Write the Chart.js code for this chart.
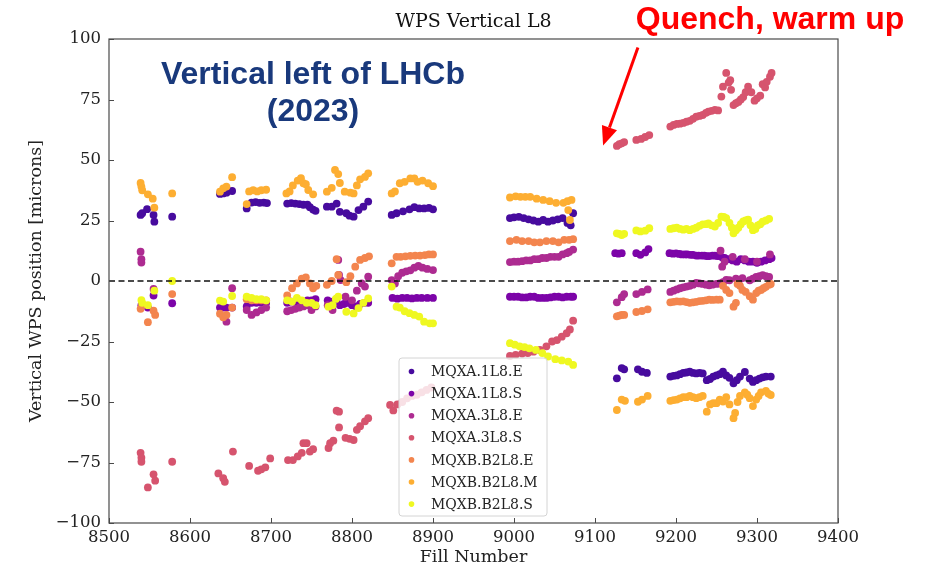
<!DOCTYPE html>
<html><head><meta charset="utf-8">
<script src="https://cdn.jsdelivr.net/npm/chart.js@4/dist/chart.umd.min.js"></script>
<style>html,body{margin:0;padding:0;background:#fff}</style>
</head><body>
<canvas id="c" width="933" height="569" style="width:933px;height:569px;display:block"></canvas>
<script>
// ---------- data (fill number, vertical position in microns) ----------
const seriesNames = ['MQXA.1L8.E','MQXA.1L8.S','MQXA.3L8.E','MQXA.3L8.S','MQXB.B2L8.E','MQXB.B2L8.M','MQXB.B2L8.S'];
const seriesColors = ['#470b9e','#7c04a8','#ad2b91','#d6546e','#f3854e','#fdae32','#eff821'];
const xTicks = [8500,8600,8700,8800,8900,9000,9100,9200,9300,9400];
const yTicks = [-100,-75,-50,-25,0,25,50,75,100];

const mqxa1l8e = [[8539,27.3],[8541,28.0],[8547,29.7],[8555,27.3],[8556,24.5],[8578,26.6],
 [8637,36.0],[8641,36.2],[8645,36.5],[8652,37.2],
 [8670,30.0],[8676,32.4],[8681,32.6],[8686,32.3],[8691,32.4],[8695,32.2],
 [8720,32.0],[8725,32.2],[8730,32.0],[8735,31.8],[8740,31.5],[8745,31.5],[8748,30.5],[8752,29.5],[8755,29.0],
 [8769,30.7],[8775,30.7],[8781,32.0],[8785,28.6],[8793,28.0],[8797,27.0],[8802,26.6],[8808,29.3],[8814,30.7],[8820,32.8],
 [8849,27.3],[8855,28.0],[8863,28.8],[8871,29.6],[8877,30.5],[8883,30.0],[8889,30.0],[8895,30.2],[8900,29.6],
 [8995,26.0],[9000,26.3],[9006,26.5],[9012,26.0],[9018,25.5],[9024,25.0],[9030,24.5],[9036,25.2],[9042,24.5],[9048,25.0],[9054,25.5],[9060,26.0],[9066,24.0],[9070,23.0],[9073,28.0],
 [9127,-40.2],[9133,-36.0],[9136,-36.5],[9153,-36.5],[9158,-37.5],[9164,-38.0],
 [9193,-39.5],[9197,-39.2],[9201,-39.0],[9205,-38.5],[9209,-38.0],[9213,-37.8],[9217,-37.5],[9221,-38.0],[9225,-38.2],[9229,-38.0],[9233,-38.2],[9238,-41.0],[9242,-40.5],[9246,-39.5],[9250,-39.0],[9254,-38.5],[9258,-37.5],[9262,-39.0],[9266,-40.0],[9271,-42.3],[9275,-41.0],[9279,-39.5],[9285,-37.6],[9291,-40.3],[9295,-41.7],[9299,-41.0],[9303,-40.3],[9307,-39.8],[9311,-39.5],[9317,-39.5]];

const mqxa1l8s = [[8540,-10.0],[8548,-11.0],[8555,-6.0],[8578,-9.2],
 [8637,-11.0],[8641,-11.0],[8645,-11.0],[8652,-11.0],
 [8670,-10.5],[8676,-9.0],[8682,-9.0],[8688,-9.0],[8694,-9.0],
 [8720,-9.0],[8725,-8.5],[8730,-8.5],[8735,-8.8],[8740,-9.0],[8745,-8.0],[8750,-8.0],[8755,-7.5],
 [8770,-8.0],[8776,-8.5],[8781,-7.5],[8785,-10.0],[8790,-9.5],[8795,-9.0],[8800,-10.0],[8805,-10.5],[8810,-9.5],[8815,-9.0],[8820,-9.0],
 [8850,-7.0],[8856,-7.3],[8862,-7.0],[8868,-7.0],[8874,-7.2],[8880,-7.0],[8886,-7.0],[8893,-7.0],[8900,-7.0],
 [8995,-6.5],[9000,-6.5],[9005,-6.5],[9010,-6.8],[9015,-6.8],[9020,-6.5],[9025,-6.5],[9030,-7.0],[9035,-7.0],[9040,-7.0],[9045,-6.8],[9050,-6.5],[9055,-6.5],[9060,-6.8],[9065,-6.5],[9070,-6.5],[9073,-6.5],
 [9125,11.5],[9129,11.3],[9133,11.5],[9151,11.5],[9156,10.8],[9162,11.8],[9166,13.2],
 [9192,11.5],[9196,11.3],[9200,11.4],[9204,11.2],[9207,11.0],[9211,11.0],[9214,11.0],[9218,10.8],[9221,10.8],[9225,10.5],[9228,10.5],[9232,10.5],[9235,10.5],[9238,10.3],[9241,10.3],[9245,10.5],[9248,10.5],[9251,10.3],[9254,10.3],[9257,9.8],[9260,9.5],[9265,9.0],[9270,8.5],[9275,8.0],[9280,9.0],[9285,8.5],[9290,8.0],[9295,8.0],[9300,7.5],[9305,8.0],[9310,8.5],[9315,9.0],[9318,9.5]];

const mqxa3l8e = [[8539,12.1],[8540,9.0],[8540,7.6],[8555,-3.3],
 [8645,-16.8],[8652,-3.0],
 [8670,-12.0],[8676,-14.0],[8682,-13.0],[8688,-12.0],[8694,-11.0],
 [8720,-12.5],[8725,-12.0],[8730,-11.5],[8735,-11.0],[8740,-10.5],[8745,-10.0],[8750,-12.0],[8755,-10.5],
 [8770,-10.0],[8776,-12.0],[8783,8.7],[8784,2.5],[8786,0.4],[8792,-6.5],[8800,-8.0],[8806,-4.0],[8812,-1.0],[8816,-2.3],[8820,1.8],
 [8849,0.4],[8853,-1.0],[8857,2.0],[8862,3.4],[8867,4.0],[8872,4.4],[8877,5.5],[8882,6.2],[8887,5.5],[8893,5.0],[8900,4.5],
 [8995,7.8],[9000,8.0],[9005,8.0],[9010,8.2],[9015,8.5],[9020,8.5],[9025,9.0],[9030,9.0],[9035,9.5],[9040,9.5],[9045,10.0],[9050,10.0],[9055,10.0],[9060,11.0],[9065,11.5],[9068,12.0],[9073,13.0],
 [9127,-8.8],[9133,-6.7],[9136,-5.4],[9151,-5.4],[9158,-4.5],[9165,-3.5],
 [9193,-4.5],[9197,-4.0],[9201,-3.5],[9205,-3.0],[9209,-2.6],[9213,-2.3],[9217,-2.0],[9221,-1.5],[9225,-0.8],[9229,-1.0],[9233,-1.2],[9237,-1.5],[9241,-1.8],[9245,-1.5],[9250,-1.2],[9254,-1.0],[9255,12.5],[9257,5.9],[9258,-0.5],[9260,8.0],[9262,0.5],[9266,0.3],[9270,10.0],[9274,1.0],[9278,0.5],[9282,1.2],[9285,9.0],[9291,0.3],[9295,1.0],[9299,1.7],[9300,8.0],[9303,2.0],[9307,2.4],[9311,2.0],[9315,1.7],[9316,11.0]];

const mqxa3l8s = [[8539,-71.0],[8540,-73.0],[8540,-74.7],[8548,-85.3],[8555,-79.9],[8557,-82.5],[8578,-74.7],
 [8635,-79.5],[8641,-81.5],[8643,-83.0],[8653,-70.5],
 [8673,-76.4],[8684,-78.4],[8688,-77.8],[8693,-77.0],[8699,-73.3],
 [8721,-74.0],[8727,-74.0],[8733,-72.5],[8738,-71.0],[8740,-67.0],[8744,-67.0],[8748,-70.5],[8752,-69.5],
 [8771,-69.0],[8773,-67.0],[8777,-66.0],[8781,-53.6],[8784,-54.0],[8784,-60.5],[8792,-64.8],[8797,-65.2],[8802,-65.7],[8806,-61.5],[8810,-60.0],[8816,-58.0],[8820,-56.7],
 [8847,-51.2],[8851,-53.5],[8856,-51.0],[8862,-50.0],[8868,-48.5],[8874,-47.5],[8880,-47.0],[8886,-46.0],[8892,-45.0],[8898,-44.0],
 [8995,-31.0],[9002,-30.5],[9010,-30.0],[9017,-29.8],[9024,-29.2],[9032,-28.5],[9040,-27.0],[9047,-25.0],[9053,-24.4],[9059,-23.0],[9065,-21.6],[9069,-20.0],[9073,-16.4],
 [9127,55.8],[9130,56.5],[9133,56.9],[9136,57.4],[9151,58.3],[9157,58.7],[9162,59.5],[9167,60.3],
 [9193,63.8],[9197,64.5],[9201,64.9],[9205,65.0],[9209,65.3],[9213,65.8],[9217,66.2],[9221,67.0],[9225,67.9],[9229,68.2],[9233,68.6],[9237,69.5],[9240,70.0],[9244,70.3],[9248,70.7],[9252,70.5],[9256,76.2],[9258,80.3],[9262,86.0],[9265,82.0],[9267,83.0],[9268,79.0],[9271,72.7],[9274,73.5],[9277,74.0],[9280,75.0],[9283,76.0],[9286,78.0],[9289,80.3],[9293,78.0],[9297,74.5],[9300,75.5],[9304,76.6],[9307,81.3],[9310,80.0],[9312,82.3],[9316,84.4],[9318,86.0]];

const mqxbb2l8e = [[8539,-11.5],[8541,-10.0],[8548,-17.0],[8555,-12.3],[8557,-14.0],[8578,-5.4],
 [8637,-13.5],[8641,-15.0],[8645,-14.0],[8652,-11.0],
 [8670,-7.5],[8676,-8.0],[8682,-8.0],[8688,-8.0],[8694,-8.0],
 [8720,-6.0],[8726,-3.0],[8732,-1.0],[8738,1.0],[8743,1.5],[8748,-1.0],[8752,-3.0],[8756,-2.0],
 [8769,-1.6],[8775,0.0],[8781,9.0],[8783,2.5],[8793,-0.5],[8798,2.0],[8804,5.9],[8810,8.7],[8816,9.5],[8821,10.2],
 [8849,7.3],[8855,10.0],[8860,10.0],[8866,10.2],[8872,10.4],[8878,10.5],[8884,10.5],[8890,10.7],[8895,11.0],[8900,11.0],
 [8995,16.5],[9003,17.0],[9010,16.5],[9018,16.5],[9025,16.0],[9032,16.0],[9040,16.5],[9048,16.5],[9055,16.0],[9062,17.0],[9068,17.0],[9073,17.3],
 [9127,-14.6],[9130,-14.3],[9133,-14.0],[9136,-14.0],[9151,-12.8],[9158,-12.4],[9165,-11.7],
 [9193,-8.8],[9197,-8.6],[9201,-8.4],[9205,-8.5],[9209,-8.4],[9213,-8.7],[9217,-9.0],[9221,-8.8],[9225,-8.6],[9229,-8.3],[9233,-8.2],[9237,-8.0],[9241,-7.7],[9245,-7.8],[9250,-7.7],[9254,-7.7],[9258,-2.0],[9262,-3.7],[9266,-5.0],[9271,-10.6],[9274,-9.0],[9276,-1.2],[9279,-2.0],[9282,-3.7],[9286,-4.5],[9291,-6.3],[9295,-7.7],[9299,-5.0],[9302,-4.0],[9305,-3.7],[9308,-3.0],[9311,-2.4],[9315,-1.5],[9317,-1.2]];

const mqxbb2l8m = [[8539,40.5],[8540,39.0],[8541,37.5],[8548,35.8],[8554,34.0],[8556,30.3],[8578,36.2],
 [8637,36.9],[8641,38.3],[8645,39.0],[8652,42.9],
 [8670,31.8],[8673,37.0],[8678,37.5],[8683,37.0],[8688,37.5],[8694,37.7],
 [8719,36.2],[8723,37.0],[8727,39.5],[8733,41.5],[8737,42.5],[8740,40.4],[8743,40.0],[8746,37.6],[8752,35.8],
 [8769,36.9],[8775,38.5],[8779,45.9],[8783,44.2],[8785,40.5],[8791,36.9],[8798,36.5],[8802,36.2],[8806,39.5],[8810,42.0],[8816,43.0],[8820,44.5],
 [8849,36.2],[8853,37.0],[8859,40.4],[8865,41.0],[8872,42.4],[8877,42.4],[8881,41.0],[8887,41.5],[8894,40.4],[8900,39.2],
 [8995,34.5],[9002,35.0],[9008,34.8],[9014,34.8],[9020,34.8],[9028,34.0],[9036,33.5],[9044,33.0],[9052,32.3],[9061,32.3],[9066,33.0],[9067,29.3],[9069,25.2],[9071,33.5],
 [9127,-53.3],[9133,-49.0],[9137,-49.5],[9153,-49.9],[9158,-49.0],[9165,-47.5],
 [9193,-49.5],[9197,-49.2],[9201,-49.0],[9205,-48.5],[9209,-48.0],[9213,-48.0],[9217,-47.5],[9221,-48.0],[9225,-48.4],[9229,-48.0],[9233,-47.5],[9238,-54.0],[9242,-51.0],[9246,-50.5],[9250,-50.5],[9254,-49.0],[9258,-49.8],[9262,-48.0],[9266,-51.0],[9271,-56.7],[9273,-54.5],[9276,-50.0],[9279,-47.5],[9285,-46.0],[9288,-47.0],[9291,-48.4],[9295,-51.7],[9299,-49.0],[9302,-47.5],[9305,-46.0],[9311,-45.4],[9314,-46.5],[9317,-47.1]];

const mqxbb2l8s = [[8540,-7.9],[8541,-9.0],[8548,-10.0],[8556,-4.0],[8578,0.0],
 [8637,-8.1],[8641,-8.5],[8652,-6.2],
 [8670,-6.5],[8676,-7.0],[8682,-7.5],[8688,-7.5],[8694,-8.0],
 [8720,-8.0],[8726,-8.5],[8732,-7.0],[8738,-8.0],[8744,-9.0],[8750,-9.0],[8755,-10.0],
 [8771,-10.6],[8776,-10.0],[8780,-7.4],[8783,-6.5],[8793,-12.7],[8802,-13.4],[8808,-11.2],[8814,-9.0],[8820,-7.2],
 [8849,-2.3],[8855,-10.6],[8859,-11.0],[8865,-12.5],[8871,-13.3],[8877,-14.0],[8883,-14.7],[8889,-16.8],[8896,-17.5],[8900,-17.5],
 [8995,-25.7],[9001,-26.3],[9007,-27.0],[9013,-27.3],[9019,-27.8],[9027,-28.5],[9035,-29.8],[9042,-31.2],[9051,-32.3],[9059,-32.8],[9067,-33.3],[9073,-34.7],
 [9127,19.7],[9130,19.5],[9133,19.0],[9136,19.5],[9151,20.9],[9156,20.5],[9162,20.8],[9167,21.8],
 [9193,21.5],[9197,21.8],[9201,22.0],[9205,21.5],[9209,21.2],[9213,21.5],[9217,21.0],[9221,21.5],[9225,22.0],[9229,22.8],[9233,23.4],[9237,23.5],[9240,23.8],[9244,23.0],[9248,22.5],[9252,24.0],[9256,26.6],[9259,26.5],[9262,26.0],[9266,24.0],[9269,22.0],[9271,19.7],[9274,21.0],[9277,22.0],[9280,23.5],[9283,24.6],[9286,25.0],[9289,25.3],[9292,23.0],[9295,21.0],[9298,21.5],[9301,23.0],[9304,23.5],[9307,24.5],[9311,25.0],[9315,25.7]];

const seriesData = [mqxa1l8e, mqxa1l8s, mqxa3l8e, mqxa3l8s, mqxbb2l8e, mqxbb2l8m, mqxbb2l8s];

// ---------- styling ----------
const SERIF = "'DejaVu Serif', serif";
const SANS = "'Liberation Sans', Arial, sans-serif";
const fmt = v => v < 0 ? '\u2212' + Math.abs(v) : String(v);

const decorPlugin = {
  id: 'decor',
  afterDatasetsDraw(chart) {
    const {ctx, chartArea: a, scales: {y}} = chart;
    const py = y.getPixelForValue(0);
    ctx.save();
    ctx.strokeStyle = '#111';
    ctx.lineWidth = 1.3;
    ctx.setLineDash([6, 3.5]);
    ctx.beginPath(); ctx.moveTo(a.left, py); ctx.lineTo(a.right, py); ctx.stroke();
    ctx.restore();
  },
  afterDraw(chart) {
    const {ctx, chartArea: a, scales: {x, y}} = chart;
    ctx.save();
    // frame
    ctx.strokeStyle = '#4a4a4a'; ctx.lineWidth = 1.2;
    ctx.strokeRect(a.left, a.top, a.right - a.left, a.bottom - a.top);
    // inward ticks
    ctx.lineWidth = 1;
    ctx.beginPath();
    xTicks.forEach(v => { const p = Math.round(x.getPixelForValue(v)) + 0.5; ctx.moveTo(p, a.bottom); ctx.lineTo(p, a.bottom - 5); });
    yTicks.forEach(v => { const p = Math.round(y.getPixelForValue(v)) + 0.5; ctx.moveTo(a.left, p); ctx.lineTo(a.left + 5, p); });
    ctx.stroke();
    // title
    ctx.fillStyle = '#111';
    ctx.font = '19px ' + SERIF;
    ctx.textAlign = 'center'; ctx.textBaseline = 'alphabetic';
    ctx.fillText('WPS Vertical L8', (a.left + a.right) / 2, 27);
    // blue annotation
    ctx.fillStyle = '#19397c';
    ctx.font = 'bold 32px ' + SANS;
    ctx.fillText('Vertical left of LHCb', 313, 84);
    ctx.fillText('(2023)', 313, 121);
    // red annotation
    ctx.fillStyle = '#ff0000';
    ctx.font = 'bold 32px ' + SANS;
    ctx.fillText('Quench, warm up', 770, 29);
    // arrow (tail and tip anchored in data space)
    const tx = x.getPixelForValue(9153), ty = y.getPixelForValue(96.5);
    const hx = x.getPixelForValue(9110), hy = y.getPixelForValue(56);
    const ang = Math.atan2(hy - ty, hx - tx);
    const headL = 19, headW = 8;
    const bx = hx - headL * Math.cos(ang), by = hy - headL * Math.sin(ang);
    ctx.strokeStyle = '#ff0000'; ctx.lineWidth = 3;
    ctx.beginPath(); ctx.moveTo(tx, ty); ctx.lineTo(bx, by); ctx.stroke();
    ctx.beginPath();
    ctx.moveTo(hx, hy);
    ctx.lineTo(bx + headW * Math.sin(ang), by - headW * Math.cos(ang));
    ctx.lineTo(bx - headW * Math.sin(ang), by + headW * Math.cos(ang));
    ctx.closePath(); ctx.fill();
    // legend
    const lx = 399, ly = 358, lw = 148, lh = 158;
    ctx.beginPath();
    ctx.roundRect(lx, ly, lw, lh, 3);
    ctx.fillStyle = 'rgba(255,255,255,0.82)'; ctx.fill();
    ctx.strokeStyle = '#d4d4d4'; ctx.lineWidth = 1; ctx.stroke();
    ctx.font = '14px ' + SERIF; ctx.textAlign = 'left'; ctx.textBaseline = 'middle';
    seriesNames.forEach((n, i) => {
      const ry = 371.5 + i * 22.1;
      ctx.fillStyle = seriesColors[i];
      ctx.beginPath(); ctx.arc(411.5, ry, 2.8, 0, Math.PI * 2); ctx.fill();
      ctx.fillStyle = '#222';
      ctx.fillText(n, 431, ry + 1);
    });
    ctx.restore();
  }
};

new Chart(document.getElementById('c'), {
  type: 'scatter',
  data: {
    datasets: seriesData.map((d, i) => ({
      label: seriesNames[i],
      data: d.map(p => ({x: p[0], y: p[1]})),
      backgroundColor: seriesColors[i],
      borderWidth: 0,
      pointRadius: 3.9,
      pointHoverRadius: 3.9,
      order: seriesData.length - i
    }))
  },
  options: {
    responsive: false,
    animation: false,
    events: [],
    layout: {padding: {top: 39, right: 95, left: 0, bottom: 0}},
    plugins: {legend: {display: false}, tooltip: {enabled: false}, title: {display: false}},
    scales: {
      x: {
        type: 'linear', min: 8500, max: 9400,
        afterBuildTicks: s => { s.ticks = xTicks.map(v => ({value: v})); },
        afterFit: s => { s.height = 46; },
        grid: {display: false, drawTicks: false},
        border: {display: false},
        ticks: {padding: 5, color: '#222', font: {family: SERIF, size: 16.5}, maxRotation: 0, autoSkip: false, callback: v => fmt(v)},
        title: {display: true, text: 'Fill Number', color: '#222', font: {family: SERIF, size: 17.5}, padding: {top: 0, bottom: 1}}
      },
      y: {
        type: 'linear', min: -100, max: 100,
        afterBuildTicks: s => { s.ticks = yTicks.map(v => ({value: v})); },
        afterFit: s => { s.width = 109; },
        grid: {display: false, drawTicks: false},
        border: {display: false},
        ticks: {padding: 8, color: '#222', font: {family: SERIF, size: 16.5}, autoSkip: false, callback: v => fmt(v)},
        title: {display: true, text: 'Vertical WPS position [microns]', color: '#222', font: {family: SERIF, size: 17.5}, padding: {top: 26, bottom: 0}}
      }
    }
  },
  plugins: [decorPlugin]
});
</script>
</body></html>
